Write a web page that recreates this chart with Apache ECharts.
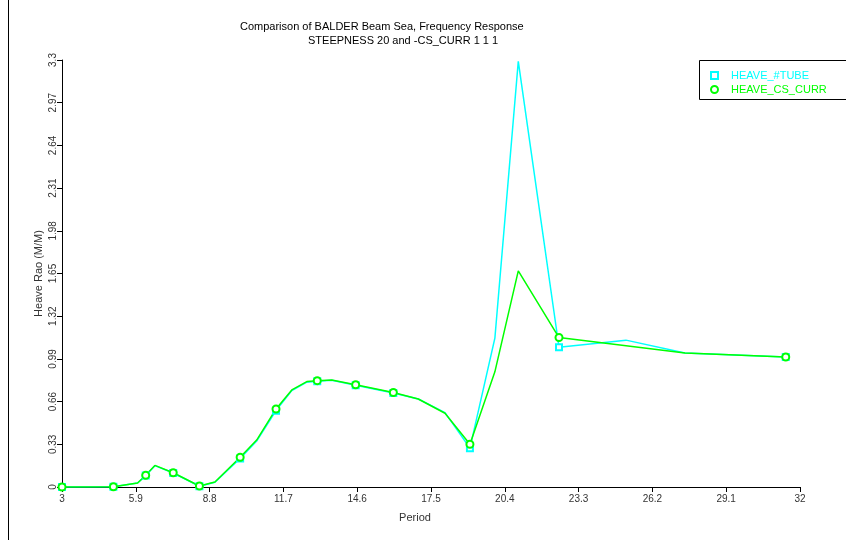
<!DOCTYPE html>
<html>
<head>
<meta charset="utf-8">
<script src="https://cdn.jsdelivr.net/npm/echarts@6/dist/echarts.min.js"></script>
<style>html,body{margin:0;padding:0;background:#fff}#c{width:846px;height:540px}</style>
</head>
<body>
<div id="c"></div>
<script>
const titleLine1 = 'Comparison of BALDER Beam Sea, Frequency Response';
const titleLine2 = 'STEEPNESS 20 and -CS_CURR 1 1 1';
const seriesNames = ['HEAVE_#TUBE', 'HEAVE_CS_CURR'];
const xTicks = [3, 5.9, 8.8, 11.7, 14.6, 17.5, 20.4, 23.3, 26.2, 29.1, 32];
const yTicks = [0, 0.33, 0.66, 0.99, 1.32, 1.65, 1.98, 2.31, 2.64, 2.97, 3.3];

const tubePeriod = [3.00,5.02,5.97,6.29,6.65,7.37,8.40,9.01,10.00,10.65,11.41,12.03,12.62,13.03,13.60,14.54,16.02,17.00,18.05,19.03,20.01,20.93,22.53,25.16,27.48,31.44];
const tubeHeave  = [0,0.002,0.031,0.088,0.165,0.108,0.006,0.037,0.22,0.355,0.59,0.745,0.81,0.818,0.825,0.787,0.727,0.68,0.575,0.30,1.15,3.29,1.08,1.135,1.035,1.005];
const tubeMarkers = [0,1,3,5,6,8,10,13,15,16,19,22,25];

const currPeriod = [3.00,5.02,5.97,6.29,6.65,7.37,8.40,9.01,10.00,10.65,11.41,12.03,12.62,13.03,13.60,14.54,16.02,17.00,18.05,19.03,20.01,20.93,22.53,27.48,31.44];
const currHeave  = [0,0.002,0.031,0.09,0.167,0.11,0.008,0.039,0.23,0.363,0.603,0.75,0.815,0.822,0.827,0.79,0.73,0.68,0.57,0.33,0.89,1.67,1.155,1.035,1.005];
const currMarkers = [0,1,3,5,6,8,10,13,15,16,19,22,24];

const CYAN = '#00ffff', GREEN = '#00ff00';
const FONT = 'Liberation Sans, Arial, sans-serif';

function build(px, py, marks, sym) {
  return px.map((x, i) => ({ value: [x, py[i]], symbol: marks.includes(i) ? sym : 'none' }));
}

const chart = echarts.init(document.getElementById('c'), null, { renderer: 'canvas' });
chart.setOption({
  animation: false,
  backgroundColor: '#fff',
  grid: { left: 62, right: 46, top: 60, bottom: 53, containLabel: false },
  graphic: [
    { type: 'line', shape: { x1: 8.5, y1: 0, x2: 8.5, y2: 540 }, style: { stroke: '#000', lineWidth: 1 } },
    { type: 'text', left: 240, top: 21, style: { text: titleLine1, font: '11px ' + FONT, fill: '#000' } },
    { type: 'text', left: 308, top: 35, style: { text: titleLine2, font: '11px ' + FONT, fill: '#000' } },
    { type: 'rect', shape: { x: 699.5, y: 60.5, width: 160, height: 39 }, style: { fill: 'none', stroke: '#000', lineWidth: 1 } }
  ],
  legend: {
    orient: 'vertical', left: 705, top: 65, itemGap: 3, itemWidth: 7, itemHeight: 7,
    textStyle: { fontFamily: FONT, fontSize: 11, padding: [0, 0, 0, 8] },
    data: [
      { name: seriesNames[0], icon: 'emptyRect', itemStyle: { color: CYAN, borderColor: CYAN, borderWidth: 1.2 }, textStyle: { color: CYAN } },
      { name: seriesNames[1], icon: 'emptyCircle', itemStyle: { color: GREEN, borderColor: GREEN, borderWidth: 1.2 }, textStyle: { color: GREEN } }
    ]
  },
  xAxis: {
    type: 'value', min: 3, max: 32,
    name: 'Period', nameLocation: 'middle', nameGap: 25,
    nameTextStyle: { fontFamily: FONT, fontSize: 11, color: '#333', padding: [0, 32, 0, 0] },
    axisLine: { show: true, lineStyle: { color: '#000', width: 1 } },
    axisTick: { show: true, length: 5, lineStyle: { color: '#000' }, customValues: xTicks },
    axisLabel: { fontFamily: FONT, fontSize: 10, color: '#333', margin: 7, customValues: xTicks, formatter: v => String(+v.toFixed(2)) },
    splitLine: { show: false }
  },
  yAxis: {
    type: 'value', min: 0, max: 3.3,
    name: 'Heave Rao (M/M)', nameLocation: 'middle', nameGap: 18, nameRotate: 90, nameMoveOverlap: false,
    nameTextStyle: { fontFamily: FONT, fontSize: 11, color: '#333' },
    axisLine: { show: true, lineStyle: { color: '#000', width: 1 } },
    axisTick: { show: true, length: 5, lineStyle: { color: '#000' }, customValues: yTicks },
    axisLabel: { fontFamily: FONT, fontSize: 10, color: '#333', rotate: 90, margin: 4, customValues: yTicks, formatter: v => String(+v.toFixed(2)) },
    splitLine: { show: false }
  },
  series: [
    {
      name: seriesNames[0], type: 'line', data: build(tubePeriod, tubeHeave, tubeMarkers, 'emptyRect'),
      symbolSize: 6, showAllSymbol: true, color: CYAN,
      lineStyle: { color: CYAN, width: 1.5 },
      itemStyle: { color: CYAN, borderColor: CYAN, borderWidth: 1.2 }
    },
    {
      name: seriesNames[1], type: 'line', data: build(currPeriod, currHeave, currMarkers, 'emptyCircle'),
      symbolSize: 7, showAllSymbol: true, color: GREEN,
      lineStyle: { color: GREEN, width: 1.5 },
      itemStyle: { color: GREEN, borderColor: GREEN, borderWidth: 1.2 }
    }
  ]
});
</script>
</body>
</html>
